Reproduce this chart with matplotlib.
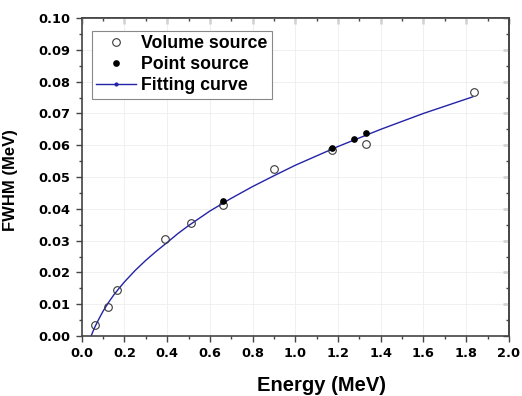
import matplotlib
matplotlib.use("Agg")
import matplotlib.pyplot as plt
from matplotlib.lines import Line2D
from matplotlib.ticker import MultipleLocator, FormatStrFormatter

plt.rcParams['font.family'] = ['Liberation Sans', 'DejaVu Sans']
plt.rcParams['font.weight'] = 'bold'

# Volume source (open circles)
vol_energy = [0.060, 0.122, 0.166, 0.392, 0.511, 0.662, 0.898, 1.173, 1.332, 1.836]
vol_fwhm = [0.0034, 0.0090, 0.0145, 0.0305, 0.0355, 0.0413, 0.0524, 0.0584, 0.0603, 0.0767]

# Point source (filled dots)
pt_energy = [0.662, 1.173, 1.275, 1.332]
pt_fwhm = [0.0425, 0.0592, 0.0619, 0.0638]

# Fitting curve
fit_energy = [0.044, 0.06, 0.08, 0.10, 0.125, 0.15, 0.175, 0.20, 0.225, 0.25, 0.30,
              0.35, 0.40, 0.45, 0.50, 0.60, 0.70, 0.80, 0.90, 1.00, 1.20, 1.40,
              1.60, 1.83]
fit_fwhm = [0.0000, 0.0026, 0.0053, 0.0078, 0.0105, 0.0129, 0.0150, 0.0170, 0.0188,
            0.0206, 0.0238, 0.0267, 0.0294, 0.0322, 0.0347, 0.0393, 0.0433, 0.0470,
            0.0504, 0.0537, 0.0596, 0.0650, 0.0700, 0.0752]

legend_labels = ["Volume source", "Point source", "Fitting curve"]

fig = plt.figure(figsize=(5.22, 3.96), dpi=100)
ax = fig.add_axes([0.1565, 0.1515, 0.8185, 0.803])

line_color = '#2323a8'
ax.plot(fit_energy, fit_fwhm, color=line_color, lw=1.0, zorder=2)
ax.plot(vol_energy, vol_fwhm, 'o', ms=5.5, mfc='none', mec='#3a3a3a', mew=0.8, zorder=3)
ax.plot(pt_energy, pt_fwhm, 'o', ms=3.8, mfc='black', mec='black', zorder=4)

ax.set_xlim(0, 2.0)
ax.set_ylim(0, 0.10)
ax.xaxis.set_major_locator(MultipleLocator(0.2))
ax.xaxis.set_minor_locator(MultipleLocator(0.1))
ax.yaxis.set_major_locator(MultipleLocator(0.01))
ax.yaxis.set_minor_locator(MultipleLocator(0.005))
ax.xaxis.set_major_formatter(FormatStrFormatter('%.1f'))
ax.yaxis.set_major_formatter(FormatStrFormatter('%.2f'))

ax.grid(True, which='major', color='#eeeeee', lw=0.6, zorder=0)
ax.set_axisbelow(True)

for s in ax.spines.values():
    s.set_color('#444444')
    s.set_linewidth(1.2)

ax.tick_params(which='both', direction='out', top=False, right=False,
               colors='#444444', labelcolor='black', width=1.0)
ax.tick_params(which='major', length=4.5, pad=3.5)
ax.tick_params(which='minor', length=2.5)
for lab in ax.get_xticklabels() + ax.get_yticklabels():
    lab.set_fontweight('bold')
    lab.set_fontfamily('DejaVu Sans')
    lab.set_fontsize(9.3)

# mirrored inward ticks on top and right
axt = ax.secondary_xaxis('top')
axt.xaxis.set_major_locator(MultipleLocator(0.2))
axt.xaxis.set_minor_locator(MultipleLocator(0.1))
axt.tick_params(which='both', direction='in', labeltop=False, colors='#444444', width=1.0)
axt.tick_params(which='major', length=4.5)
axt.tick_params(which='minor', length=2.5)
axr = ax.secondary_yaxis('right')
axr.yaxis.set_major_locator(MultipleLocator(0.01))
axr.yaxis.set_minor_locator(MultipleLocator(0.005))
axr.tick_params(which='both', direction='in', labelright=False, colors='#444444', width=1.0)
axr.tick_params(which='major', length=4.5)
axr.tick_params(which='minor', length=2.5)
for a in (axt, axr):
    for s in a.spines.values():
        s.set_color('#444444')
        s.set_linewidth(1.2)

ax.set_xlabel("Energy (MeV)", fontsize=14.5, fontweight='bold')
ax.set_ylabel("FWHM (MeV)", fontsize=12, fontweight='bold')
ax.xaxis.set_label_coords(0.562, -0.127)
ax.yaxis.set_label_coords(-0.150, 0.49)

handles = [
    Line2D([], [], ls='none', marker='o', ms=5.5, mfc='none', mec='#3a3a3a', mew=0.8),
    Line2D([], [], ls='none', marker='o', ms=3.8, mfc='black', mec='black'),
    Line2D([], [], color=line_color, lw=1.0, marker='o', ms=2),
]
leg = ax.legend(handles, legend_labels, loc='upper left', bbox_to_anchor=(0.023, 0.959),
                borderaxespad=0, frameon=True, fancybox=False, framealpha=1,
                edgecolor='#888888', prop={'weight': 'bold', 'size': 12.8},
                handlelength=2.25, handletextpad=0.3, borderpad=0.25,
                labelspacing=0.22, numpoints=1)
leg.get_frame().set_linewidth(0.8)

fig.savefig("out.png", dpi=100)
